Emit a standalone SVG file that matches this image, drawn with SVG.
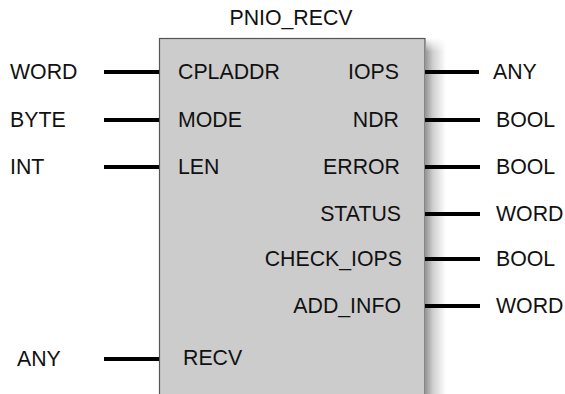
<svg xmlns="http://www.w3.org/2000/svg" width="565" height="394" viewBox="0 0 565 394">
<style>
text{font-family:"Liberation Sans",Arial,sans-serif;font-size:21.3px;fill:#111}
.r{text-anchor:end}
.w line{stroke:#000;stroke-width:4}
</style>
<defs>
<linearGradient id="sh" x1="0" y1="0" x2="1" y2="0">
<stop offset="0" stop-color="#9a9a9a"/>
<stop offset="0.35" stop-color="#cfcfcf"/>
<stop offset="1" stop-color="#ffffff"/>
</linearGradient>
<linearGradient id="top" x1="0" y1="0" x2="0" y2="1">
<stop offset="0" stop-color="#fff" stop-opacity="1"/>
<stop offset="1" stop-color="#fff" stop-opacity="0"/>
</linearGradient>
</defs>
<rect width="565" height="394" fill="#fff"/>
<g id="block">
<rect x="426" y="38" width="20" height="356" fill="url(#sh)"/>
<rect x="426" y="38" width="20" height="14" fill="url(#top)"/>
<rect x="159.5" y="38.5" width="265.5" height="360" fill="#cccccc" stroke="#555" stroke-width="1.2"/>
<text x="291" y="25" text-anchor="middle">PNIO_RECV</text>
<text x="178" y="79">CPLADDR</text>
<text x="178" y="127">MODE</text>
<text x="178" y="174">LEN</text>
<text x="183" y="365">RECV</text>
<text class="r" x="399" y="79">IOPS</text>
<text class="r" x="399" y="127">NDR</text>
<text class="r" x="400" y="174">ERROR</text>
<text class="r" x="401" y="221">STATUS</text>
<text class="r" x="402" y="266">CHECK_IOPS</text>
<text class="r" x="401" y="313">ADD_INFO</text>
</g>
<g id="connectors" class="w">
<line x1="104" y1="72" x2="159" y2="72"/>
<line x1="104" y1="120" x2="159" y2="120"/>
<line x1="104" y1="167" x2="159" y2="167"/>
<line x1="104" y1="359" x2="159" y2="359"/>
<line x1="425" y1="72" x2="479" y2="72"/>
<line x1="425" y1="120" x2="480" y2="120"/>
<line x1="425" y1="167" x2="480" y2="167"/>
<line x1="425" y1="214" x2="480" y2="214"/>
<line x1="425" y1="259" x2="480" y2="259"/>
<line x1="425" y1="306" x2="480" y2="306"/>
</g>
<g id="types">
<text x="10" y="79">WORD</text>
<text x="10" y="127">BYTE</text>
<text x="10" y="174">INT</text>
<text x="17" y="366">ANY</text>
<text x="493" y="79">ANY</text>
<text x="496" y="127">BOOL</text>
<text x="496" y="174">BOOL</text>
<text x="496" y="221">WORD</text>
<text x="496" y="266">BOOL</text>
<text x="496" y="313">WORD</text>
</g>
</svg>
